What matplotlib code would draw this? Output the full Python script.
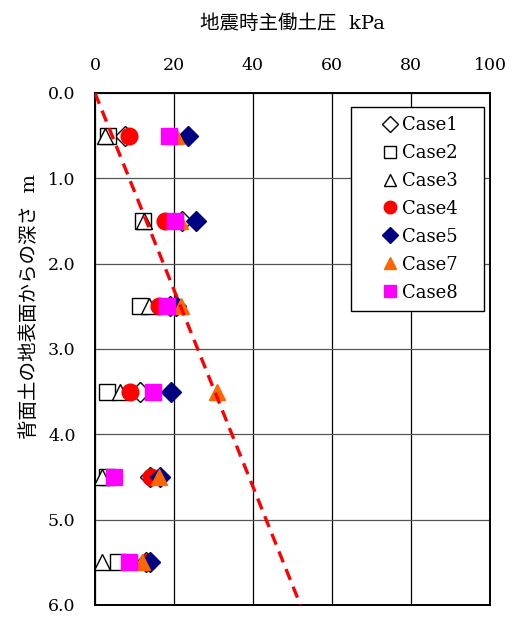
import matplotlib.pyplot as plt

plt.rcParams['font.family'] = ['DejaVu Serif', 'Noto Sans CJK JP']

depth = [0.5, 1.5, 2.5, 3.5, 4.5, 5.5]  # m

# seismic active earth pressure, kPa
case1 = [7.5, 22.0, 19.0, 11.4, 14.0, 13.0]
case2 = [3.3, 12.2, 11.3, 3.0, 3.0, 5.9]
case3 = [2.5, 12.4, 13.8, 6.3, 1.9, 1.9]
case4 = [8.6, 17.8, 16.3, 8.9, 14.1, 13.5]
case5 = [23.6, 25.6, 20.5, 19.2, 16.5, 14.0]
case7 = [20.5, 21.5, 21.8, 30.9, 16.1, 11.8]
case8 = [18.8, 20.3, 18.2, 14.6, 4.9, 8.5]

# dashed design line
line_p = [0, 52]
line_z = [0.0, 6.0]

fig = plt.figure(figsize=(5.14, 6.17), dpi=100)
ax = fig.add_axes([0.1848, 0.0195, 0.7685, 0.8298])

ms = 12
ax.plot(case1, depth, 'D', ms=10.5, mfc='white', mec='black', mew=1.0, ls='none', label='Case1')
ax.plot(case2, depth, 's', ms=ms, mfc='white', mec='black', mew=1.0, ls='none', label='Case2')
ax.plot(case3, depth, '^', ms=ms, mfc='white', mec='black', mew=1.0, ls='none', label='Case3')
ax.plot(case4, depth, 'o', ms=ms, color='red', ls='none', label='Case4')
ax.plot(case5, depth, 'D', ms=10.5, color='#000080', ls='none', label='Case5')
ax.plot(case7, depth, '^', ms=ms, color='#ff6600', ls='none', label='Case7')
ax.plot(case8, depth, 's', ms=ms, color='magenta', ls='none', label='Case8')
ax.plot(line_p, line_z, color='red', ls=(0, (3.5, 2.2)), lw=2.4, zorder=5)

ax.set_xlim(0, 100)
ax.set_ylim(6.0, 0.0)
ax.set_xticks([0, 20, 40, 60, 80, 100])
ax.set_yticks([0, 1, 2, 3, 4, 5, 6])
ax.set_yticklabels(['%.1f' % v for v in [0, 1, 2, 3, 4, 5, 6]])
ax.xaxis.tick_top()
ax.tick_params(length=0, labelsize=12.5)
ax.tick_params(axis='x', pad=14)
ax.tick_params(axis='y', pad=14)

ax.xaxis.grid(True, color='black', lw=0.9)
ax.yaxis.grid(True, color='#555555', lw=0.9)
ax.set_axisbelow(True)
for s in ax.spines.values():
    s.set_linewidth(1.4)

fig.text(0.569, 0.962, '地震時主働土圧  kPa', fontsize=14, ha='center', va='center')
fig.text(0.058, 0.504, '背面土の地表面からの深さ  m', fontsize=14,
         rotation=90, ha='center', va='center')

leg = ax.legend(loc='upper left', bbox_to_anchor=(0.648, 0.5, 0.337, 0.4727),
                mode='expand', fontsize=13,
                fancybox=False, edgecolor='black', framealpha=1, markerscale=0.75,
                handlelength=3.3, handletextpad=-0.95, labelspacing=0.55,
                borderpad=0.5, borderaxespad=0)
leg.get_frame().set_linewidth(1.0)

fig.savefig('out.png', dpi=100)
